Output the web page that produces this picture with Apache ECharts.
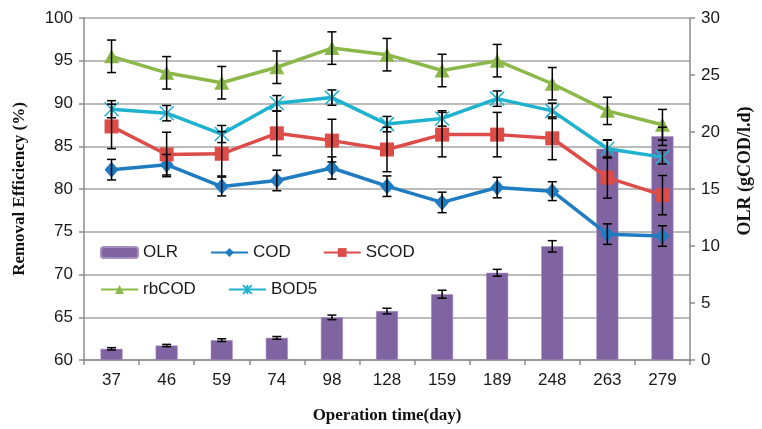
<!DOCTYPE html>
<html>
<head>
<meta charset="utf-8">
<script src="https://cdn.jsdelivr.net/npm/echarts@6/dist/echarts.min.js"></script>
<style>html,body{margin:0;padding:0;background:#fff;}#c{width:762px;height:429px;}</style>
</head>
<body>
<div id="c"></div>
<script>
const days = ['37','46','59','74','98','128','159','189','248','263','279'];
const olr = [0.98,1.27,1.74,1.94,3.74,4.29,5.77,7.65,9.97,18.52,19.62];
const olrErr = [0.1,0.1,0.12,0.12,0.2,0.25,0.35,0.3,0.5,0.8,0.8];
const cod = [82.26,82.84,80.29,81.0,82.46,80.33,78.43,80.17,79.75,74.72,74.5];
const codErr = [1.2,1.2,1.1,1.2,1.3,1.2,1.2,1.2,1.1,1.2,1.2];
const scod = [87.32,84.04,84.12,86.51,85.66,84.62,86.36,86.36,85.93,81.33,79.28];
const scodErr = [2.6,2.6,2.6,2.6,2.5,2.6,2.6,2.6,2.5,2.4,2.3];
const rbcod = [95.52,93.59,92.43,94.24,96.48,95.71,93.86,95.01,92.31,89.14,87.51];
const rbcodErr = [1.9,1.9,1.9,1.9,1.9,1.9,1.9,1.9,1.9,1.6,1.8];
const bod5 = [89.33,88.87,86.43,90.03,90.69,87.59,88.25,90.57,89.14,84.7,83.73];
const bod5Err = [1.0,0.9,1.0,0.9,0.9,0.9,0.9,0.9,0.9,1.0,0.8];
const leftTicks = {min:60, max:100, interval:5};
const rightTicks = {min:0, max:30, interval:5};

const chart = echarts.init(document.getElementById('c'), null, {renderer:'canvas'});

function errData(vals, errs){
  return vals.map((v,i)=>[i, v-errs[i], v+errs[i]]);
}
function errSeries(vals, errs, yIdx){
  return {
    type:'custom', yAxisIndex:yIdx, z:10, silent:true,
    data: errData(vals, errs),
    encode:{x:0, y:[1,2]},
    renderItem:function(params, api){
      const x = api.value(0);
      const lo = api.coord([x, api.value(1)]);
      const hi = api.coord([x, api.value(2)]);
      const hw = 4.5;
      const st = {stroke:'#000', lineWidth:1.5};
      return {type:'group', children:[
        {type:'line', shape:{x1:lo[0],y1:lo[1],x2:hi[0],y2:hi[1]}, style:st},
        {type:'line', shape:{x1:lo[0]-hw,y1:lo[1],x2:lo[0]+hw,y2:lo[1]}, style:st},
        {type:'line', shape:{x1:hi[0]-hw,y1:hi[1],x2:hi[0]+hw,y2:hi[1]}, style:st}
      ]};
    }
  };
}

const txt = {color:'#1a1a1a', fontFamily:'Liberation Sans', fontSize:17};
const star = 'path://M0,0L10,10M10,0L0,10M5,0L5,10';

const legendBase = {
  orient:'horizontal', itemWidth:37, itemHeight:11, itemGap:32, padding:0,
  textStyle:{color:'#1a1a1a', fontFamily:'Liberation Sans', fontSize:17, width:45},
  selectedMode:false
};

chart.setOption({
  animation:false,
  backgroundColor:'#fff',
  grid:{left:84, right:63, top:18, bottom:66},
  legend:[
    Object.assign({}, legendBase, {left:100, top:244, data:['OLR','COD','SCOD']}),
    Object.assign({}, legendBase, {left:100, top:281, data:['rbCOD','BOD5']})
  ],
  xAxis:{
    type:'category', data:days, boundaryGap:true,
    name:'Operation time(day)', nameLocation:'middle', nameGap:47,
    nameTextStyle:{fontFamily:'Liberation Serif', fontWeight:'bold', fontSize:17, color:'#111'},
    axisLine:{lineStyle:{color:'#8c8c8c', width:1.5}},
    axisTick:{show:true, interval:0, alignWithLabel:false, length:5, lineStyle:{color:'#8c8c8c', width:1.5}},
    axisLabel:Object.assign({margin:12, interval:0}, txt)
  },
  yAxis:[
    {
      type:'value', min:leftTicks.min, max:leftTicks.max, interval:leftTicks.interval,
      name:'Removal Efficiency (%)', nameLocation:'middle', nameGap:56, nameRotate:90,
      nameTextStyle:{fontFamily:'Liberation Serif', fontWeight:'bold', fontSize:17, color:'#111'},
      axisLine:{show:true, lineStyle:{color:'#8c8c8c', width:1.5}},
      axisTick:{show:true, length:5, lineStyle:{color:'#8c8c8c', width:1.5}},
      axisLabel:Object.assign({margin:11}, txt),
      splitLine:{show:true, lineStyle:{color:'#a6a6a6', width:1.5}}
    },
    {
      type:'value', min:rightTicks.min, max:rightTicks.max, interval:rightTicks.interval, position:'right',
      name:'OLR (gCOD/l.d)', nameLocation:'middle', nameGap:46, nameRotate:90,
      nameTextStyle:{fontFamily:'Liberation Serif', fontWeight:'bold', fontSize:18, color:'#111', padding:[0,0,0,36]},
      axisLine:{show:true, lineStyle:{color:'#8c8c8c', width:1.5}},
      axisTick:{show:true, length:5, lineStyle:{color:'#8c8c8c', width:1.5}},
      axisLabel:Object.assign({margin:11}, txt),
      splitLine:{show:false}
    }
  ],
  series:[
    {name:'OLR', type:'bar', yAxisIndex:1, data:olr, barWidth:22, z:1,
      itemStyle:{color:'#8064a2', borderColor:'#a48fbf', borderWidth:0.5}},
    {name:'COD', type:'line', data:cod, z:5, symbol:'diamond', symbolSize:[14,16],
      lineStyle:{color:'#1f7cc1', width:3.5}, itemStyle:{color:'#1f7cc1'}},
    {name:'SCOD', type:'line', data:scod, z:5, symbol:'rect', symbolSize:14,
      lineStyle:{color:'#dc4c48', width:3.5}, itemStyle:{color:'#dc4c48'}},
    {name:'rbCOD', type:'line', data:rbcod, z:5, symbol:'triangle', symbolSize:[15,14],
      lineStyle:{color:'#8cb84a', width:3.5}, itemStyle:{color:'#8cb84a'}},
    {name:'BOD5', type:'line', data:bod5, z:5, symbol:star, symbolSize:14,
      lineStyle:{color:'#1eb2cf', width:3.5}, itemStyle:{color:'#1eb2cf', borderColor:'#1eb2cf', borderWidth:1.5}},
    errSeries(olr, olrErr, 1),
    errSeries(cod, codErr, 0),
    errSeries(scod, scodErr, 0),
    errSeries(rbcod, rbcodErr, 0),
    errSeries(bod5, bod5Err, 0)
  ]
});
</script>
</body>
</html>
